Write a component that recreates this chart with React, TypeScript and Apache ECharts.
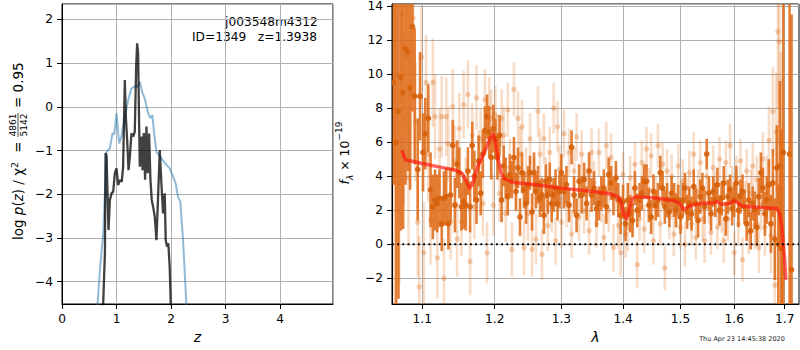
import React, { useEffect, useRef } from "react";
import * as echarts from "echarts";

const FONT = "DejaVu Sans";

// ---- left panel: redshift probability ----
const zTicks = [0, 1, 2, 3, 4];
const zRange = [0, 4.97];
const logpRange = [-4.51, 2.35];

const pzBlue: [number, number][] = [
  [0.61, -5.3], [0.653, -4.49], [0.695, -3.73], [0.756, -2.89], [0.817, -1.03], [0.878, -0.95],
  [0.927, -0.6], [0.957, -0.64], [1.0, -0.15], [1.048, -0.84], [1.09, -0.68], [1.152, -0.23],
  [1.213, 0.155], [1.274, 0.42], [1.354, 0.475], [1.378, 0.445], [1.427, 0.575], [1.476, 0.31],
  [1.518, 0.19], [1.579, -0.15], [1.622, -0.26], [1.659, -0.19], [1.689, -0.61], [1.732, -1.03],
  [1.823, -1.18], [1.915, -1.33], [1.976, -1.41], [2.037, -1.6], [2.085, -1.75], [2.128, -2.06],
  [2.17, -2.17], [2.22, -3.05], [2.28, -4.49], [2.3, -5.0],
];

const pzDark: [number, number][] = [
  [0.75, -5.0], [0.756, -4.49], [0.774, -3.81], [0.787, -3.35], [0.799, -1.06], [0.817, -1.14],
  [0.835, -1.98], [0.853, -2.82], [0.878, -2.13], [0.909, -1.98], [0.939, -1.94], [0.969, -1.52],
  [1.0, -1.41], [1.03, -1.79], [1.06, -1.68], [1.097, -1.71], [1.121, -1.37], [1.152, 0.61],
  [1.171, -0.23], [1.195, -0.76], [1.22, -1.45], [1.244, -1.14], [1.274, -0.61], [1.305, -0.68],
  [1.335, -0.57], [1.36, 0.92], [1.378, 1.45], [1.396, 1.22], [1.415, -0.45], [1.427, -1.37],
  [1.457, -0.68], [1.476, -1.45], [1.5, -0.6], [1.524, -1.67], [1.549, -0.45], [1.573, -1.52],
  [1.598, -0.61], [1.622, -1.67], [1.646, -2.13], [1.671, -2.29], [1.701, -2.51], [1.732, -3.05],
  [1.762, -2.06], [1.793, -0.99], [1.823, -1.75], [1.853, -2.44], [1.884, -1.98], [1.902, -3.05],
  [1.927, -3.2], [1.95, -3.12], [1.975, -3.66], [1.994, -4.49], [2.0, -5.0],
];

// ---- right panel: spectrum ----
const lamTicks = [1.1, 1.2, 1.3, 1.4, 1.5, 1.6, 1.7];
const lamRange = [1.0607, 1.7294];
const fluxRange = [-3.51, 14.12];

// [lambda (um), flux, error]
const specLight: [number, number, number][] = [
  [1.064, 6.0, 12], [1.067, 10.0, 8], [1.07, 3.6, 6], [1.073, 13.5, 5], [1.076, 7.4, 5],
  [1.079, 11.0, 4.5], [1.082, 3.9, 4], [1.085, 8.8, 4], [1.088, 13.3, 4], [1.091, 7.2, 3.5],
  [1.094, 1.3, 3.2], [1.096, -2.5, 3], [1.099, 11.0, 3], [1.102, -0.5, 3], [1.105, 9.5, 2.8],
  [1.108, 5.3, 2.8], [1.111, 1.4, 2.6], [1.114, 9.5, 2.6], [1.117, 7.5, 2.5], [1.12, -0.8, 2.4],
  [1.123, 5.6, 2.4], [1.126, 7.5, 2.4], [1.129, -2.0, 2.3], [1.132, 7.5, 2.3], [1.135, 5.9, 2.2],
  [1.138, 1.3, 2.2], [1.141, 8.1, 2.2], [1.144, 4.9, 2.1], [1.147, 0.3, 2.2], [1.15, 6.8, 2.1],
  [1.153, 1.3, 2.0], [1.156, 8.2, 2.0], [1.159, 3.1, 2.0], [1.162, 8.8, 2.0], [1.165, -1.0, 2.0],
  [1.168, 6.4, 1.9], [1.171, 2.2, 1.9], [1.174, 8.6, 1.9], [1.177, 4.8, 1.9], [1.18, 6.2, 1.8],
  [1.183, 2.4, 1.9], [1.186, 8.5, 1.8], [1.189, -0.5, 1.8], [1.192, 8.0, 1.8], [1.195, 7.4, 1.7],
  [1.198, 2.3, 1.8], [1.201, 7.6, 1.7], [1.204, 5.8, 1.8], [1.207, 3.0, 1.7], [1.21, 7.4, 1.7],
  [1.213, 6.4, 1.7], [1.216, 1.8, 1.7], [1.219, 7.9, 1.6], [1.222, 4.5, 1.7], [1.225, -0.3, 1.6],
  [1.228, 9.1, 1.6], [1.231, 3.5, 1.6], [1.234, 7.4, 1.6], [1.237, 5.3, 1.6], [1.24, 6.9, 1.6],
  [1.243, -0.2, 1.6], [1.246, 4.1, 1.6], [1.249, 1.8, 1.6], [1.252, 6.2, 1.5], [1.255, -0.3, 1.6],
  [1.258, 3.5, 1.5], [1.261, 0.3, 1.5], [1.264, 7.8, 1.5], [1.267, 5.3, 1.5], [1.27, -0.6, 1.5],
  [1.273, 6.2, 1.5], [1.276, 3.6, 1.5], [1.279, 1.1, 1.5], [1.282, 5.4, 1.5], [1.285, 2.2, 1.5],
  [1.288, 8.0, 1.5], [1.291, 0.2, 1.4], [1.294, 6.9, 1.5], [1.297, 4.4, 1.4], [1.3, 1.3, 1.5],
  [1.304, 6.5, 1.4], [1.308, 2.4, 1.4], [1.312, 5.4, 1.4], [1.316, 0.6, 1.4], [1.32, 4.3, 1.4],
  [1.324, 6.3, 1.4], [1.328, 1.6, 1.4], [1.332, 5.3, 1.4], [1.336, 2.0, 1.4], [1.34, 3.1, 1.4],
  [1.344, 0.8, 1.4], [1.348, 5.4, 1.4], [1.352, 3.6, 1.3], [1.356, 1.2, 1.4], [1.36, 5.4, 1.4],
  [1.364, 2.6, 1.3], [1.368, 0.4, 1.4], [1.372, 5.8, 1.4], [1.376, 2.0, 1.3], [1.38, 5.1, 1.4],
  [1.384, -0.2, 1.4], [1.388, 3.3, 1.3], [1.392, 1.1, 1.4], [1.396, -0.5, 1.4], [1.4, 4.1, 1.3],
  [1.404, 0.6, 1.4], [1.408, 1.0, 1.4], [1.412, 3.9, 1.3], [1.416, 1.9, 1.4], [1.42, 4.7, 1.3],
  [1.424, -1.2, 1.4], [1.428, 1.5, 1.3], [1.432, 4.8, 1.3], [1.436, 0.9, 1.4], [1.44, 5.6, 1.3],
  [1.444, 3.2, 1.3], [1.448, 5.2, 1.3], [1.452, 0.2, 1.4], [1.456, 2.7, 1.3], [1.46, 5.8, 1.3],
  [1.464, 1.2, 1.3], [1.468, 4.7, 1.3], [1.472, -1.4, 1.3], [1.476, 4.3, 1.3], [1.48, 1.6, 1.3],
  [1.484, 4.0, 1.3], [1.488, 0.6, 1.3], [1.492, 2.3, 1.3], [1.496, 4.6, 1.3], [1.5, 1.0, 1.3],
  [1.504, 3.7, 1.3], [1.508, 0.0, 1.3], [1.512, 2.6, 1.3], [1.516, 4.2, 1.3], [1.52, 1.2, 1.3],
  [1.524, 5.3, 1.3], [1.528, 0.4, 1.3], [1.532, 3.1, 1.3], [1.536, 4.8, 1.3], [1.54, 1.5, 1.3],
  [1.544, 0.2, 1.3], [1.548, 4.0, 1.3], [1.552, 2.5, 1.3], [1.556, 0.7, 1.3], [1.56, 4.5, 1.3],
  [1.564, 3.0, 1.3], [1.568, 1.0, 1.3], [1.572, 5.0, 1.3], [1.576, 2.0, 1.3], [1.58, 0.2, 1.3],
  [1.584, 4.8, 1.3], [1.588, 1.5, 1.3], [1.592, 5.8, 1.3], [1.596, 3.3, 1.3], [1.6, -0.5, 1.3],
  [1.604, 3.9, 1.3], [1.608, 1.2, 1.3], [1.612, 4.9, 1.3], [1.616, -0.9, 1.3], [1.62, 2.4, 1.3],
  [1.624, 4.3, 1.3], [1.628, 0.7, 1.3], [1.632, 3.0, 1.4], [1.636, 4.6, 1.4], [1.64, 1.1, 1.4],
  [1.644, 3.8, 1.4], [1.648, -0.2, 1.5], [1.652, 2.3, 1.5], [1.656, 5.0, 1.6], [1.66, 1.0, 1.7],
  [1.664, 3.4, 1.8], [1.668, 6.1, 2.0], [1.672, 0.5, 2.2], [1.676, 7.8, 2.6], [1.68, -2.4, 3.0],
  [1.683, 6.6, 3.5], [1.686, 12.5, 4.5], [1.689, 11.9, 6], [1.692, 3.3, 8], [1.695, -0.2, 10],
];

const specDark: [number, number, number][] = [
  [1.063, 9.5, 6], [1.066, 6.0, 14], [1.069, 7.8, 11], [1.072, 9.8, 9], [1.075, 8.9, 8],
  [1.078, 11.5, 8], [1.081, 11.3, 7], [1.084, 9.2, 6], [1.087, 12.8, 5], [1.09, 8.7, 4],
  [1.094, 4.4, 3.0], [1.097, 8.7, 2.6], [1.101, 5.4, 2.3], [1.104, 6.5, 2.1], [1.108, 7.4, 2.0],
  [1.111, 3.2, 2.2], [1.114, 2.2, 1.9], [1.117, 2.6, 1.8], [1.12, 2.4, 1.7], [1.123, 2.7, 1.7],
  [1.126, 1.2, 1.6], [1.129, 2.7, 1.6], [1.132, 2.8, 1.7], [1.135, 1.2, 1.5], [1.138, 2.9, 1.6],
  [1.141, 5.8, 1.5], [1.144, 2.3, 1.6], [1.147, 4.7, 1.4], [1.15, 4.2, 1.5], [1.153, 2.2, 1.4],
  [1.156, 2.5, 1.6], [1.159, 2.3, 1.5], [1.162, 4.3, 1.4], [1.165, 2.2, 1.5], [1.168, 5.8, 1.4],
  [1.171, 4.0, 1.5], [1.174, 2.6, 1.4], [1.177, 4.9, 1.5], [1.18, 3.0, 1.3], [1.183, 5.3, 1.4],
  [1.186, 6.7, 1.4], [1.189, 7.5, 1.3], [1.192, 6.6, 1.5], [1.195, 5.1, 1.3], [1.198, 6.8, 1.4],
  [1.201, 6.2, 1.2], [1.204, 5.1, 1.3], [1.207, 6.4, 1.2], [1.21, 2.6, 1.3], [1.213, 4.6, 1.2],
  [1.216, 3.9, 1.2], [1.219, 2.8, 1.1], [1.222, 4.1, 1.2], [1.225, 3.8, 1.1], [1.228, 5.1, 1.2],
  [1.231, 3.1, 1.1], [1.234, 4.5, 1.2], [1.237, 1.6, 1.1], [1.24, 4.2, 1.2], [1.243, 3.2, 1.1],
  [1.246, 2.4, 1.2], [1.249, 3.5, 1.1], [1.252, 4.2, 1.0], [1.255, 1.9, 1.1], [1.258, 4.2, 1.2],
  [1.261, 3.1, 1.0], [1.264, 3.5, 1.1], [1.267, 2.7, 1.1], [1.27, 2.9, 1.0], [1.273, 1.7, 1.1],
  [1.276, 3.7, 1.0], [1.279, 2.9, 1.1], [1.282, 3.8, 1.0], [1.285, 2.4, 1.1], [1.288, 2.9, 1.0],
  [1.291, 3.3, 1.1], [1.294, 2.4, 1.0], [1.297, 3.1, 1.0], [1.3, 4.2, 1.1], [1.304, 3.1, 1.0],
  [1.308, 3.5, 1.1], [1.312, 2.3, 1.0], [1.316, 5.7, 1.0], [1.32, 2.9, 1.1], [1.324, 1.7, 1.0],
  [1.328, 3.7, 1.0], [1.332, 2.9, 1.1], [1.336, 3.8, 1.0], [1.34, 2.4, 1.0], [1.344, 4.3, 1.1],
  [1.348, 2.9, 1.0], [1.352, 3.3, 1.0], [1.356, 2.1, 1.1], [1.36, 2.4, 1.0], [1.364, 3.0, 1.0],
  [1.368, 3.3, 1.1], [1.372, 2.2, 1.0], [1.376, 4.1, 1.0], [1.38, 3.6, 1.0], [1.384, 2.8, 1.1],
  [1.388, 3.9, 1.0], [1.392, 2.6, 1.0], [1.396, 1.7, 1.1], [1.4, 2.5, 1.0], [1.404, 1.2, 1.0],
  [1.408, 2.6, 1.0], [1.412, 1.8, 1.1], [1.416, 1.4, 1.0], [1.42, 3.3, 1.0], [1.424, 2.0, 1.0],
  [1.428, 2.6, 1.0], [1.432, 3.0, 1.0], [1.436, 3.7, 1.0], [1.44, 3.7, 1.0], [1.444, 2.3, 1.0],
  [1.448, 1.6, 1.0], [1.452, 3.1, 1.0], [1.456, 2.3, 0.9], [1.46, 2.6, 1.0], [1.464, 4.2, 1.0],
  [1.468, 3.3, 1.0], [1.472, 2.2, 1.0], [1.476, 2.6, 1.0], [1.48, 1.9, 0.9], [1.484, 3.0, 1.0],
  [1.488, 2.6, 1.0], [1.492, 2.0, 1.0], [1.496, 2.6, 0.9], [1.5, 1.6, 1.0], [1.504, 2.6, 1.0],
  [1.508, 3.3, 0.9], [1.512, 1.9, 1.0], [1.516, 2.4, 1.0], [1.52, 1.8, 1.0], [1.524, 3.4, 1.0],
  [1.528, 2.4, 0.9], [1.532, 1.4, 1.0], [1.536, 2.8, 1.0], [1.54, 3.3, 0.9], [1.544, 2.2, 1.0],
  [1.548, 5.3, 0.9], [1.552, 3.0, 1.0], [1.556, 1.8, 1.0], [1.56, 3.1, 0.9], [1.564, 2.6, 1.0],
  [1.568, 3.5, 1.0], [1.572, 2.0, 0.9], [1.576, 2.7, 1.0], [1.58, 3.6, 1.0], [1.584, 1.5, 1.0],
  [1.588, 2.8, 1.0], [1.592, 3.2, 0.9], [1.596, 2.1, 1.0], [1.6, 2.6, 1.0], [1.604, 3.6, 1.0],
  [1.608, 2.0, 1.0], [1.612, 2.8, 1.0], [1.616, 3.1, 1.0], [1.62, 2.2, 1.0], [1.624, 1.2, 1.0],
  [1.628, 2.6, 1.0], [1.632, 0.8, 1.1], [1.636, 2.4, 1.0], [1.64, 2.0, 1.1], [1.644, 1.0, 1.1],
  [1.648, 2.8, 1.1], [1.652, 4.2, 1.2], [1.656, 3.3, 1.2], [1.66, 1.8, 1.3], [1.664, 2.6, 1.4],
  [1.668, 3.5, 1.5], [1.672, 1.2, 1.7], [1.676, 3.6, 2.0], [1.68, 0.3, 2.4], [1.684, 4.5, 2.5],
  [1.687, 0.0, 3.5], [1.69, 4.6, 5], [1.693, -0.25, 7], [1.697, 5.4, 10], [1.71, 5.3, 20],
  [1.714, -1.5, 15],
];

const modelLine: [number, number][] = [
  [1.074, 5.45], [1.078, 4.95], [1.09, 4.85], [1.1, 4.75], [1.122, 4.55], [1.145, 4.35],
  [1.154, 4.15], [1.16, 3.7], [1.164, 3.3], [1.168, 3.5], [1.176, 4.6], [1.187, 5.6],
  [1.194, 6.3], [1.198, 6.45], [1.201, 6.0], [1.205, 5.0], [1.209, 4.2], [1.214, 3.85],
  [1.225, 3.65], [1.26, 3.5], [1.3, 3.3], [1.35, 3.1], [1.38, 2.95], [1.392, 2.8],
  [1.397, 2.4], [1.402, 1.7], [1.406, 1.5], [1.411, 2.1], [1.416, 2.7], [1.425, 2.8],
  [1.46, 2.7], [1.49, 2.55], [1.5, 2.35], [1.505, 2.05], [1.512, 2.15], [1.52, 2.3],
  [1.54, 2.4], [1.56, 2.42], [1.568, 2.5], [1.575, 2.35], [1.59, 2.4], [1.6, 2.55],
  [1.606, 2.45], [1.615, 2.25], [1.63, 2.2], [1.66, 2.15], [1.684, 2.1], [1.69, 1.8],
  [1.694, 1.0], [1.697, 0.0], [1.7, -1.0], [1.702, -2.0],
];

const fmtMinus = (v: number) => (v < 0 ? "\u2212" + Math.abs(v) : String(v));

const axisCommon = {
  axisLine: { show: true, onZero: false, lineStyle: { color: "#000", width: 1 } },
  axisTick: { show: true, inside: false, length: 5, lineStyle: { color: "#000", width: 1 } },
  splitLine: { show: true, lineStyle: { color: "#b0b0b0", width: 1 } },
};

const labelStyle = { color: "#000", fontFamily: FONT, fontSize: 12.2 };

const txt = (text: string, size: number, align: string, extra: any = {}) => ({
  text,
  fill: "#000",
  fontFamily: FONT,
  fontSize: size,
  align,
  verticalAlign: "middle",
  ...extra,
});

function errorBars(data: [number, number, number][], barColor: string, dotColor: string, barWidth: number, r: number) {
  return {
    type: "custom",
    xAxisIndex: 1,
    yAxisIndex: 1,
    clip: true,
    data: data.map(([l, f, e]) => [Math.log(l), f, e]),
    encode: { x: 0, y: 1 },
    renderItem: (_p: any, api: any) => {
      const x = api.value(0);
      const y = api.value(1);
      const e = api.value(2);
      const lo = api.coord([x, y - e]);
      const hi = api.coord([x, y + e]);
      const c = api.coord([x, y]);
      return {
        type: "group",
        children: [
          { type: "line", shape: { x1: lo[0], y1: lo[1], x2: hi[0], y2: hi[1] }, style: { stroke: barColor, lineWidth: barWidth } },
          { type: "circle", shape: { cx: c[0], cy: c[1], r }, style: { fill: dotColor } },
        ],
      };
    },
  };
}

export default function App() {
  const ref = useRef<HTMLDivElement>(null);
  useEffect(() => {
    document.body.style.margin = "0";
    const chart = echarts.init(ref.current!, null, { renderer: "svg" });
    const option: any = {
      animation: false,
      backgroundColor: "#fff",
      grid: [
        { left: 62, top: 4, width: 271, height: 300, show: true, borderColor: "#000", borderWidth: 1, backgroundColor: "transparent" },
        { left: 392, top: 4, width: 407, height: 300, show: true, borderColor: "#000", borderWidth: 1, backgroundColor: "transparent" },
      ],
      xAxis: [
        {
          type: "value", gridIndex: 0, min: zRange[0], max: zRange[1], interval: 1,
          ...axisCommon,
          axisLabel: { ...labelStyle, margin: 9, showMaxLabel: false, formatter: (v: number) => (zTicks.includes(v) ? fmtMinus(v) : "") },
          name: "z", nameLocation: "middle", nameGap: 26,
          nameTextStyle: { fontFamily: FONT, fontSize: 14, fontStyle: "italic", color: "#000" },
        },
        {
          type: "value", gridIndex: 1, min: Math.log(lamRange[0]), max: Math.log(lamRange[1]),
          ...axisCommon,
          axisTick: { ...axisCommon.axisTick, customValues: lamTicks.map((v) => Math.log(v)) },
          axisLabel: { ...labelStyle, margin: 9, customValues: lamTicks.map((v) => Math.log(v)), formatter: (v: number) => Math.exp(v).toFixed(1) },
          name: "λ", nameLocation: "middle", nameGap: 26,
          nameTextStyle: { fontFamily: FONT, fontSize: 14, fontStyle: "italic", color: "#000" },
        },
      ],
      yAxis: [
        {
          type: "value", gridIndex: 0, min: logpRange[0], max: logpRange[1], splitNumber: 5,
          ...axisCommon,
          axisLabel: { ...labelStyle, margin: 9, showMinLabel: false, showMaxLabel: false, formatter: fmtMinus },
        },
        {
          type: "value", gridIndex: 1, min: fluxRange[0], max: fluxRange[1], splitNumber: 9,
          ...axisCommon,
          axisLabel: { ...labelStyle, margin: 9, showMinLabel: false, showMaxLabel: false, formatter: fmtMinus },
        },
      ],
      series: [
        {
          type: "line", xAxisIndex: 0, yAxisIndex: 0, data: pzBlue, showSymbol: false, symbol: "none",
          lineStyle: { color: "rgba(31,119,180,0.5)", width: 2 }, z: 3,
        },
        {
          type: "line", xAxisIndex: 0, yAxisIndex: 0, data: pzDark, showSymbol: false, symbol: "none",
          lineStyle: { color: "rgba(0,0,0,0.75)", width: 2.3 }, z: 4,
        },
        errorBars(specLight, "rgba(217,95,2,0.22)", "rgba(217,95,2,0.28)", 2.6, 2.7),
        errorBars(specDark, "rgba(222,104,20,0.85)", "rgba(214,96,10,0.9)", 2.6, 2.9),
        {
          type: "line", xAxisIndex: 1, yAxisIndex: 1, data: modelLine.map(([l, f]) => [Math.log(l), f]),
          showSymbol: false, symbol: "none", z: 5,
          lineStyle: { color: "rgba(255,25,15,0.68)", width: 3.5, cap: "round", join: "round" },
        },
        {
          type: "line", xAxisIndex: 1, yAxisIndex: 1, data: [[Math.log(lamRange[0]), 0], [Math.log(lamRange[1]), 0]],
          showSymbol: false, symbol: "none", z: 6,
          lineStyle: { color: "#000", width: 1.8, type: [1.8, 3.4] },
        },
      ],
      graphic: [
        { type: "text", x: 225, y: 22, style: txt("j003548m4312", 12.2, "left") },
        { type: "text", x: 192, y: 37, style: txt("ID=1349   z=1.3938", 12.2, "left") },
        {
          type: "group", x: 18, y: 240, rotation: Math.PI / 2,
          children: [
            {
              type: "text", x: 0, y: 0,
              style: {
                text: "{n|log }{i|p}{n|(}{i|z}{n|) / χ}{s|2}",
                rich: {
                  n: { fontFamily: FONT, fontSize: 13.5, fill: "#000", lineHeight: 18 },
                  i: { fontFamily: FONT, fontSize: 13.5, fontStyle: "italic", fill: "#000", lineHeight: 18 },
                  s: { fontFamily: FONT, fontSize: 9.5, fill: "#000", verticalAlign: "top", lineHeight: 11 },
                },
                align: "left", verticalAlign: "middle",
              },
            },
            { type: "text", x: 93, y: 0, style: txt("=", 13.5, "center") },
            { type: "text", x: 115, y: -5, style: txt("4861", 9, "center") },
            { type: "line", shape: { x1: 103, y1: 0, x2: 127, y2: 0 }, style: { stroke: "#000", lineWidth: 0.7 } },
            { type: "text", x: 115, y: 5.5, style: txt("5142", 9, "center") },
            { type: "text", x: 132, y: 0, style: txt("= 0.95", 13.5, "left") },
          ],
        },
        {
          type: "group", x: 344, y: 153, rotation: Math.PI / 2,
          children: [
            {
              type: "text", x: 0, y: 0,
              style: {
                text: "{i|f}{b|λ}{n| × 10}{t|−19}",
                rich: {
                  n: { fontFamily: FONT, fontSize: 12.5, fill: "#000", lineHeight: 20 },
                  i: { fontFamily: FONT, fontSize: 12.5, fontStyle: "italic", fill: "#000", lineHeight: 20 },
                  b: { fontFamily: FONT, fontSize: 9, fontStyle: "italic", fill: "#000", verticalAlign: "bottom", lineHeight: 11 },
                  t: { fontFamily: FONT, fontSize: 9, fill: "#000", verticalAlign: "top", lineHeight: 11 },
                },
                align: "center", verticalAlign: "middle",
              },
            },
          ],
        },
        { type: "text", x: 742, y: 339, style: txt("Thu Apr 23 14:45:38 2020", 6.5, "center", { fill: "#222" }) },
      ],
    };
    chart.setOption(option);
    return () => chart.dispose();
  }, []);
  return <div ref={ref} style={{ width: 800, height: 350 }} />;
}
